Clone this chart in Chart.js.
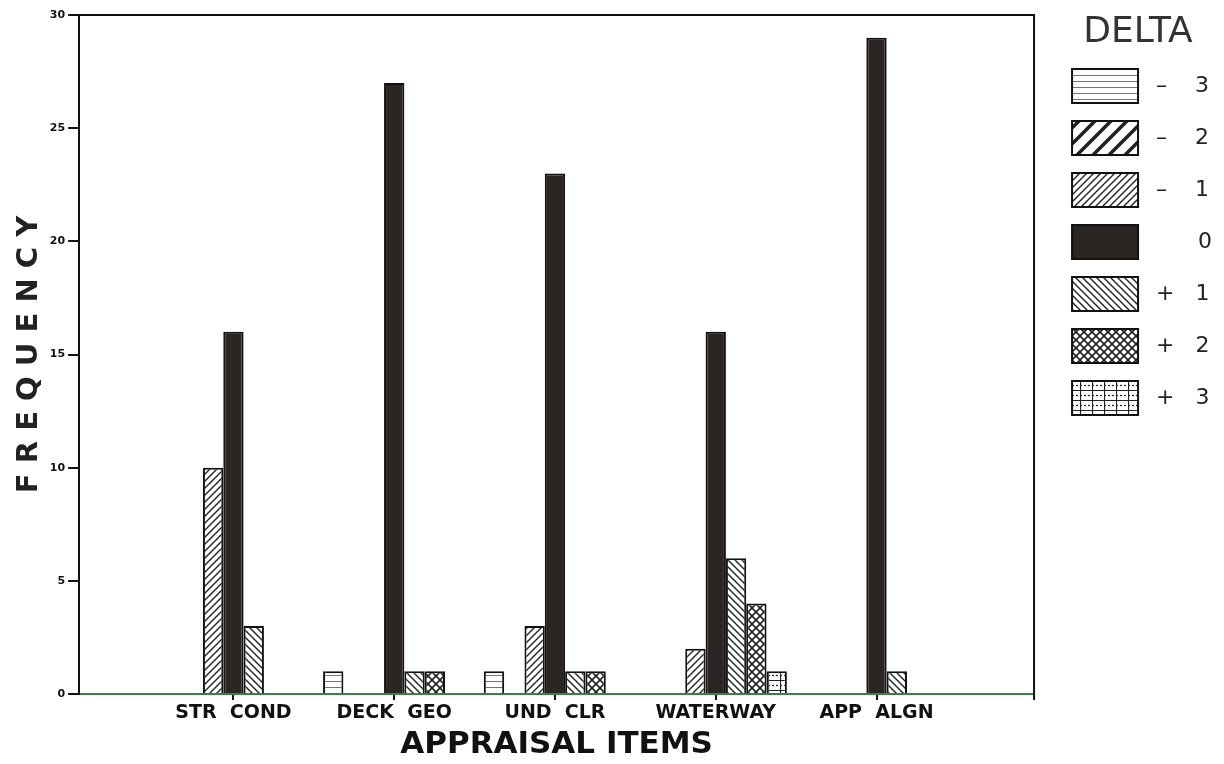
<!DOCTYPE html>
<html lang="en">
<head>
<meta charset="UTF-8">
<title>Appraisal Items</title>
<script src="https://cdn.jsdelivr.net/npm/chart.js"></script>
<style>
  body { margin: 0; background: #fff; }
  #wrap { width: 1224px; height: 764px; position: relative; }
</style>
</head>
<body>
<div id="wrap"><canvas id="chart"></canvas></div>
<script>
// data
const categories = ['STR  COND', 'DECK  GEO', 'UND  CLR', 'WATERWAY', 'APP  ALGN'];
const deltaLabels = [' –    3', ' –    2', ' –    1', '       0', ' +   1', ' +   2', ' +   3'];
const minus3 = [0, 1, 1, 0, 0];
const minus2 = [0, 0, 0, 0, 0];
const minus1 = [10, 0, 3, 2, 0];
const zero = [16, 27, 23, 16, 29];
const plus1 = [3, 1, 1, 6, 1];
const plus2 = [0, 1, 1, 4, 0];
const plus3 = [0, 0, 0, 1, 0];
const yTicks = [0, 5, 10, 15, 20, 25, 30];

// hatch fills
function tile(w, h, draw) {
  const c = document.createElement('canvas');
  c.width = w; c.height = h;
  const g = c.getContext('2d');
  g.fillStyle = '#fff';
  g.fillRect(0, 0, w, h);
  g.strokeStyle = '#222';
  draw(g, w, h);
  return g.createPattern(c, 'repeat');
}
function slash(g, s) {
  g.beginPath();
  g.moveTo(0, s); g.lineTo(s, 0);
  g.moveTo(-2, 2); g.lineTo(2, -2);
  g.moveTo(s - 2, s + 2); g.lineTo(s + 2, s - 2);
  g.stroke();
}
function backslash(g, s) {
  g.beginPath();
  g.moveTo(0, 0); g.lineTo(s, s);
  g.moveTo(-2, s - 2); g.lineTo(2, s + 2);
  g.moveTo(s - 2, -2); g.lineTo(s + 2, 2);
  g.stroke();
}
const fills = [
  tile(6, 6, (g) => { g.lineWidth = 1; g.strokeStyle = '#777'; g.beginPath(); g.moveTo(0, 3.5); g.lineTo(6, 3.5); g.stroke(); }),
  tile(16, 16, (g) => { g.lineWidth = 3.5; slash(g, 16); }),
  tile(7, 7, (g) => { g.lineWidth = 1.4; slash(g, 7); }),
  '#2b2623',
  tile(7, 7, (g) => { g.lineWidth = 1.4; backslash(g, 7); }),
  tile(8, 8, (g) => { g.lineWidth = 1.6; slash(g, 8); backslash(g, 8); }),
  tile(12, 10, (g) => {
    g.lineWidth = 1.2;
    g.beginPath();
    g.moveTo(0.5, 0); g.lineTo(0.5, 10);
    g.moveTo(0, 0.5); g.lineTo(12, 0.5);
    g.stroke();
    g.setLineDash([2, 2]);
    g.beginPath(); g.moveTo(0, 5.5); g.lineTo(12, 5.5); g.stroke();
  })
];

const series = [minus3, minus2, minus1, zero, plus1, plus2, plus3];
const datasets = series.map((vals, k) => ({
  label: deltaLabels[k],
  data: vals.map((v, i) => ({ x: i, y: v === 0 ? null : v })),
  backgroundColor: fills[k],
  borderColor: '#111',
  borderWidth: 2,
  barPercentage: 1,
  categoryPercentage: 0.885
}));

const frame = {
  id: 'frame',
  afterDatasetsDraw(chart) {
    const { ctx, chartArea: a } = chart;
    ctx.save();
    ctx.strokeStyle = '#111';
    ctx.lineWidth = 2;
    ctx.beginPath();
    ctx.moveTo(a.left, a.top);
    ctx.lineTo(a.right, a.top);
    ctx.lineTo(a.right, a.bottom + 6);
    ctx.stroke();
    ctx.restore();
  }
};

new Chart(document.getElementById('chart'), {
  type: 'bar',
  data: { datasets: datasets },
  plugins: [frame],
  options: {
    responsive: true,
    maintainAspectRatio: false,
    animation: false,
    layout: { padding: { top: 15, left: 12, right: 2, bottom: 0 } },
    plugins: {
      tooltip: { enabled: false },
      legend: {
        position: 'right',
        align: 'start',
        title: {
          display: true,
          text: 'DELTA',
          color: '#333',
          font: { family: 'DejaVu Sans', size: 36, lineHeight: 1.0 },
          padding: 0
        },
        labels: {
          boxWidth: 66,
          boxHeight: 34,
          padding: 18,
          color: '#222',
          font: { family: 'DejaVu Sans', size: 22 }
        }
      }
    },
    scales: {
      x: {
        type: 'linear',
        offset: false,
        min: -0.96,
        max: 4.98,
        afterBuildTicks: (s) => { s.ticks = categories.map((c, i) => ({ value: i })); },
        grid: { offset: false, drawOnChartArea: false, tickLength: 6, tickColor: '#111', lineWidth: 2 },
        border: { color: '#3c7d4c', width: 2 },
        ticks: {
          callback: (v) => categories[v],
          color: '#111',
          font: { family: 'DejaVu Sans', size: 19, weight: 'bold' },
          maxRotation: 0,
          padding: 2
        },
        title: {
          display: true,
          text: 'APPRAISAL ITEMS',
          color: '#111',
          font: { family: 'DejaVu Sans', size: 31, weight: 'bold' },
          padding: { top: 0, bottom: 0 }
        }
      },
      y: {
        min: 0,
        max: 30,
        afterBuildTicks: (s) => { s.ticks = yTicks.map((v) => ({ value: v })); },
        grid: { drawOnChartArea: false, tickLength: 11, tickColor: '#111', lineWidth: 2 },
        border: { color: '#111', width: 2 },
        ticks: {
          color: '#111',
          font: { family: 'DejaVu Sans', size: 11, weight: 'bold' },
          padding: 3
        },
        title: {
          display: true,
          text: 'F R E Q U E N C Y',
          color: '#222',
          font: { family: 'DejaVu Sans', size: 29, weight: 'bold' },
          padding: { top: 0, bottom: 0 }
        }
      },
      y2: {
        position: 'right',
        display: true,
        grid: { display: false },
        border: { display: false },
        ticks: { display: false },
        afterFit: (s) => { s.width = 20; }
      }
    }
  }
});
</script>
</body>
</html>
